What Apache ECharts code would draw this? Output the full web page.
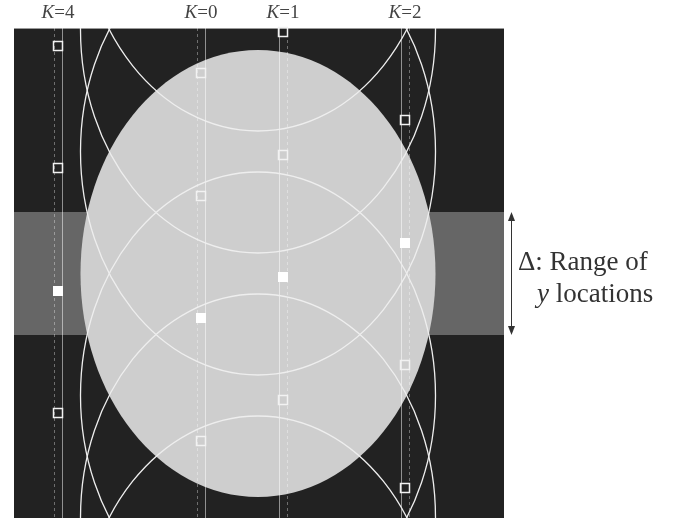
<!DOCTYPE html>
<html>
<head>
<meta charset="utf-8">
<script src="https://cdn.jsdelivr.net/npm/echarts@6/dist/echarts.min.js"></script>
<style>html,body{margin:0;padding:0;background:#fff;}#c{width:686px;height:520px;}</style>
</head>
<body>
<div id="c"></div>
<script>
// ---- data ----
const columnLabels = ['4', '0', '1', '2'];          // K values
const columnX = [58, 201, 283, 405];                 // column positions
const hollowY = [[46, 168, 413], [73, 196, 441], [32, 155, 400], [120, 365, 488]];
const filledY = [291, 318, 277, 243];
const solidSide = [1, 1, -1, -1];
const ellipseCenter = [258, 273.5];
const ellipseRadii = [177.5, 223.5];
const outlineCentersY = [-92.5, 29.5, 151.5, 395.5, 517.5, 639.5];
const bandY = [212, 335];
const frameX = [14, 504];
const frameY = [28, 518];
const arrowX = 511;
const noteLines = ['Δ: Range of', '{i|y} locations'];
const notePos = [[518, 263], [537, 295]];

const serif = 'Liberation Serif';

const chart = echarts.init(document.getElementById('c'), null, {renderer: 'canvas'});

const hollowData = [], filledData = [];
columnX.forEach((x, i) => {
  hollowY[i].forEach(y => hollowData.push([x, y]));
  filledData.push([x, filledY[i]]);
});

const option = {
  animation: false,
  grid: {left: frameX[0], top: frameY[0], width: frameX[1] - frameX[0], height: frameY[1] - frameY[0],
         show: true, backgroundColor: '#222222', borderWidth: 0},
  xAxis: {type: 'value', min: frameX[0], max: frameX[1], show: false},
  yAxis: {type: 'value', min: frameY[0], max: frameY[1], inverse: true, show: false},
  series: [
    { // gray band
      type: 'custom', z: 1,
      data: [[bandY[0], bandY[1]]],
      renderItem: (params, api) => {
        const p1 = api.coord([frameX[0], api.value(0)]);
        const p2 = api.coord([frameX[1], api.value(1)]);
        return {type: 'rect', shape: {x: p1[0], y: p1[1], width: p2[0] - p1[0], height: p2[1] - p1[1]},
                style: {fill: '#666666'}};
      }
    },
    { // top frame edge
      type: 'custom', z: 1,
      data: [[frameY[0]]],
      renderItem: (params, api) => {
        const p1 = api.coord([frameX[0], api.value(0)]);
        const p2 = api.coord([frameX[1], api.value(0)]);
        return {type: 'line', shape: {x1: p1[0], y1: p1[1] + 0.5, x2: p2[0], y2: p2[1] + 0.5},
                style: {stroke: '#9a9a9a', lineWidth: 1}};
      }
    },
    { // main ellipse
      type: 'custom', z: 2,
      data: [[ellipseCenter[0], ellipseCenter[1], ellipseRadii[0], ellipseRadii[1]]],
      renderItem: (params, api) => {
        const c = api.coord([api.value(0), api.value(1)]);
        const s = api.size([api.value(2), api.value(3)]);
        return {type: 'ellipse', shape: {cx: c[0], cy: c[1], rx: s[0], ry: s[1]}, style: {fill: '#cecece'}};
      }
    },
    { // column lines
      type: 'custom', z: 3, clip: true,
      data: columnX.map((x, i) => [x, solidSide[i]]),
      renderItem: (params, api) => {
        const x = api.value(0), side = api.value(1);
        const a1 = api.coord([x + 4 * side, frameY[0]]), a2 = api.coord([x + 4 * side, frameY[1]]);
        const b1 = api.coord([x - 4 * side, frameY[0]]), b2 = api.coord([x - 4 * side, frameY[1]]);
        return {type: 'group', children: [
          {type: 'line', shape: {x1: a1[0] + 0.5, y1: a1[1], x2: a2[0] + 0.5, y2: a2[1]},
           style: {stroke: 'rgba(255,255,255,0.5)', lineWidth: 1}},
          {type: 'line', shape: {x1: b1[0] + 0.5, y1: b1[1], x2: b2[0] + 0.5, y2: b2[1]},
           style: {stroke: 'rgba(255,255,255,0.35)', lineWidth: 1, lineDash: [3, 3]}}
        ]};
      }
    },
    { // white ellipse outlines
      type: 'custom', z: 4, clip: true,
      data: outlineCentersY.map(cy => [ellipseCenter[0], cy, ellipseRadii[0], ellipseRadii[1]]),
      renderItem: (params, api) => {
        const c = api.coord([api.value(0), api.value(1)]);
        const s = api.size([api.value(2), api.value(3)]);
        return {type: 'ellipse', shape: {cx: c[0], cy: c[1], rx: s[0], ry: s[1]},
                style: {fill: null, stroke: '#eeeeee', lineWidth: 1.3}};
      }
    },
    { // hollow squares
      type: 'scatter', z: 5, symbol: 'rect', symbolSize: 9,
      data: hollowData,
      itemStyle: {color: 'rgba(0,0,0,0)', borderColor: '#f2f2f2', borderWidth: 1.5, opacity: 1}
    },
    { // filled squares
      type: 'scatter', z: 5, symbol: 'rect', symbolSize: 10,
      data: filledData,
      itemStyle: {color: '#ffffff', opacity: 1}
    },
    { // column labels
      type: 'custom', z: 6,
      data: columnX.map((x, i) => [x, 13, i]),
      renderItem: (params, api) => {
        const p = api.coord([api.value(0), api.value(1)]);
        const i = api.value(2);
        return {type: 'text', x: p[0], y: p[1],
          style: {text: '{i|K}{n|=' + columnLabels[i] + '}', align: 'center', verticalAlign: 'middle',
            fontFamily: serif, fontSize: 19, fill: '#444',
            rich: {i: {fontStyle: 'italic', fontFamily: serif, fontSize: 19, fill: '#444'},
                   n: {fontFamily: serif, fontSize: 19, fill: '#444'}}}};
      }
    },
    { // double arrow
      type: 'custom', z: 6,
      data: [[arrowX, bandY[0], bandY[1]]],
      renderItem: (params, api) => {
        const t = api.coord([api.value(0), api.value(1)]);
        const b = api.coord([api.value(0), api.value(2)]);
        const x = t[0] + 0.5;
        return {type: 'group', children: [
          {type: 'line', shape: {x1: x, y1: t[1] + 4, x2: x, y2: b[1] - 4}, style: {stroke: '#333', lineWidth: 1}},
          {type: 'polygon', shape: {points: [[x, t[1]], [x - 3.5, t[1] + 9], [x + 3.5, t[1] + 9]]}, style: {fill: '#333'}},
          {type: 'polygon', shape: {points: [[x, b[1]], [x - 3.5, b[1] - 9], [x + 3.5, b[1] - 9]]}, style: {fill: '#333'}}
        ]};
      }
    },
    { // annotation text
      type: 'custom', z: 6,
      data: notePos.map((p, i) => [p[0], p[1], i]),
      renderItem: (params, api) => {
        const p = api.coord([api.value(0), api.value(1)]);
        const i = api.value(2);
        return {type: 'text', x: p[0], y: p[1],
          style: {text: noteLines[i], align: 'left', verticalAlign: 'middle',
            fontFamily: serif, fontSize: 27, fill: '#333',
            rich: {i: {fontStyle: 'italic', fontFamily: serif, fontSize: 27, fill: '#333'}}}};
      }
    }
  ]
};
chart.setOption(option);
</script>
</body>
</html>
